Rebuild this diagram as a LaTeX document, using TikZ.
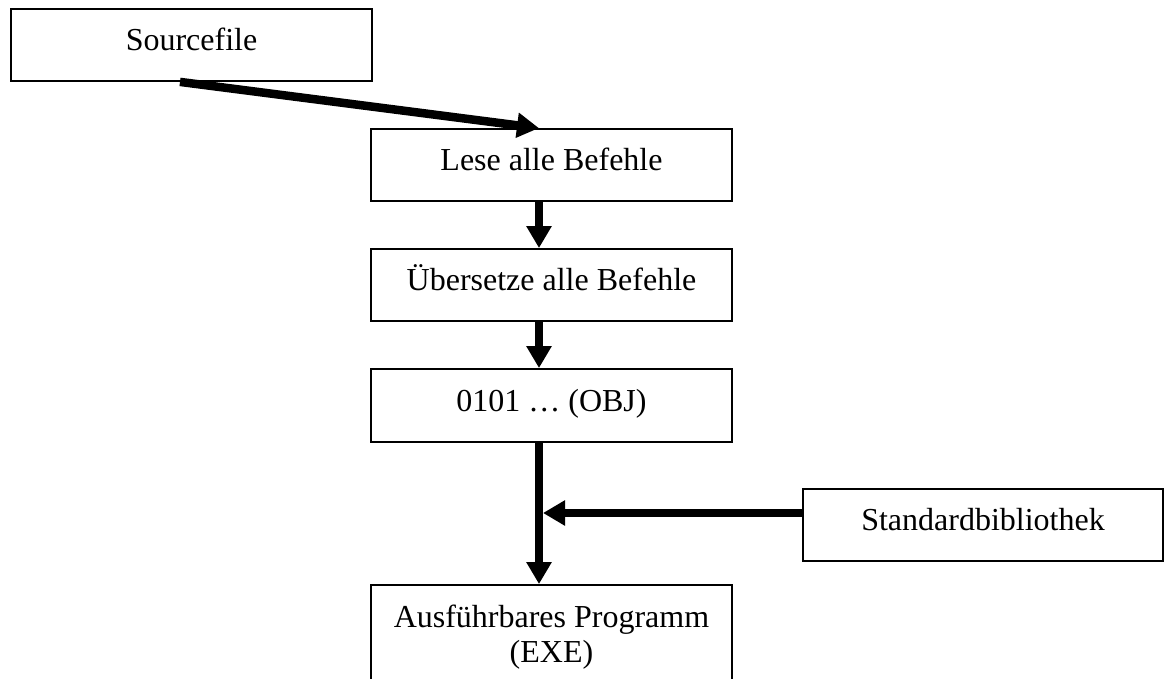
\documentclass[tikz,border=0pt]{standalone}
\usepackage{fontspec}
\setmainfont{Liberation Serif}
\usetikzlibrary{arrows.meta,calc}
\begin{document}
\begin{tikzpicture}[x=1pt,y=-1pt,
  box/.style={draw,line width=1.8pt,minimum width=361pt,inner sep=0pt,
    font=\fontsize{32}{35}\selectfont,text height=22pt,text depth=11pt},
  flow/.style={line width=8.5pt,-{Triangle[length=22pt,width=24pt]}}]
\useasboundingbox (0,0) rectangle (1165,679);
\clip (0,0) rectangle (1165,679);
\fill[white] (0,0) rectangle (1165,679);
\node[box,minimum height=72pt] (src) at (191.5,45) {Sourcefile};
\node[box,minimum height=72pt] (lese) at (551.5,165) {Lese alle Befehle};
\node[box,minimum height=72pt] (ueb) at (551.5,285) {Übersetze alle Befehle};
\node[box,minimum height=73pt] (obj) at (551.5,405.5) {0101 … (OBJ)};
\node[box,minimum width=360pt,minimum height=72pt] (std) at (983,525) {Standardbibliothek};
\node[box,minimum height=105pt,align=center,text height=,text depth=] (exe) at (551.5,637.5) {Ausführbares Programm\\(EXE)};
\coordinate (sx) at (180,0);
\coordinate (ax) at (539,0);
\coordinate (j) at (543,513);
\draw[flow] (src.south -| sx) -- (lese.north -| ax);
\draw[flow] (lese.south -| ax) -- (ueb.north -| ax);
\draw[flow] (ueb.south -| ax) -- (obj.north -| ax);
\draw[flow] (obj.south -| ax) -- (exe.north -| ax);
\draw[flow] (std.west |- j) -- (j);
\end{tikzpicture}
\end{document}
